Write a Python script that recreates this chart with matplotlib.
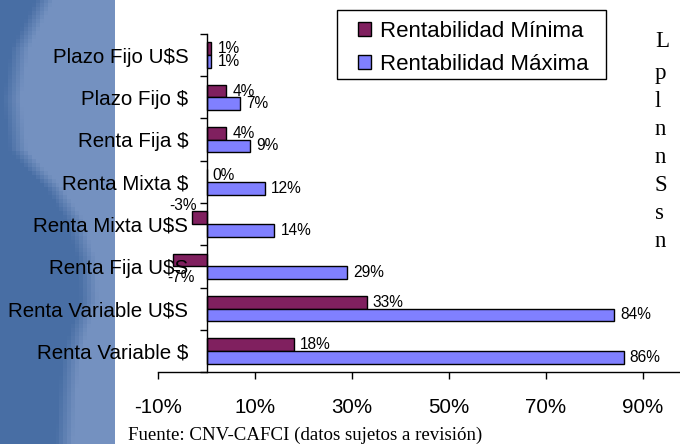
import numpy as np
import matplotlib
matplotlib.use('Agg')
import matplotlib.pyplot as plt
from matplotlib.patches import Rectangle

# data
categories = ['Plazo Fijo U$S', 'Plazo Fijo $', 'Renta Fija $', 'Renta Mixta $',
              'Renta Mixta U$S', 'Renta Fija U$S', 'Renta Variable U$S', 'Renta Variable $']
rent_min = [1, 4, 4, 0, -3, -7, 33, 18]
rent_max = [1, 7, 9, 12, 14, 29, 84, 86]
x_ticks = [-10, 10, 30, 50, 70, 90]
series_names = ['Rentabilidad Mínima', 'Rentabilidad Máxima']

# letters of the slide text cut off at the right edge
side_letters = ['L', 'p', 'l', 'n', 'n', 'S', 's', 'n']
side_baselines = [47, 79, 107, 135, 163, 191, 219, 247]

PURPLE = '#80205f'
BLUE = '#8080ff'
W, H = 680, 444

plt.rcParams['font.family'] = ['Liberation Sans', 'DejaVu Sans']

fig = plt.figure(figsize=(W / 100, H / 100), dpi=100)
fig.patch.set_facecolor('white')

# blocky blue backdrop on the left side of the slide
bg = fig.add_axes([0, 0, 115 / W, 1])
bg.set_axis_off()
rows = np.arange(0, H, 4) + 2
cols = np.arange(0, 116, 4) + 2
edge = np.interp(rows, [0, 20, 50, 100, 150, 170, 190, 220, 260, 300, 330, 360, 400, 444],
                 [45, 35, 20, 12, 18, 35, 55, 75, 88, 90, 80, 72, 68, 65])
t = np.clip((cols[None, :] - edge[:, None]) / 18 + 0.5, 0, 1)
dark = np.array([72, 110, 164]) / 255
light = np.array([116, 145, 192]) / 255
img = dark[None, None, :] * (1 - t[..., None]) + light[None, None, :] * t[..., None]
bg.imshow(img, aspect='auto', interpolation='nearest', extent=[0, 116, H, 0])

# chart
ax = fig.add_axes([158 / W, 72 / H, 533.5 / W, 338 / H])
ax.patch.set_alpha(0)
ypos = np.arange(len(categories))
bh = 0.3
b1 = ax.barh(ypos - bh / 2, rent_min, height=bh, color=PURPLE, edgecolor='black',
             linewidth=1, label=series_names[0])
b2 = ax.barh(ypos + bh / 2, rent_max, height=bh, color=BLUE, edgecolor='black',
             linewidth=1, label=series_names[1])

ax.set_xlim(-10, 100)
ax.set_ylim(len(categories) - 0.5, -0.5)

for y, v in zip(ypos - bh / 2, rent_min):
    if v >= 0:
        ax.annotate('%d%%' % v, (v, y), xytext=(4.5, 0), textcoords='offset points',
                    ha='left', va='center', fontsize=11.2)
# the two negative labels sit above / below their bars as in the original
ax.annotate('%d%%' % rent_min[4], (0, ypos[4] - bh / 2), xytext=(-7, 9),
            textcoords='offset points', ha='right', va='center', fontsize=11.2)
ax.annotate('%d%%' % rent_min[5], (0, ypos[5] - bh / 2), xytext=(-8.5, -12.5),
            textcoords='offset points', ha='right', va='center', fontsize=11.2)
for y, v in zip(ypos + bh / 2, rent_max):
    ax.annotate('%d%%' % v, (v, y), xytext=(4.5, 0), textcoords='offset points',
                ha='left', va='center', fontsize=11.2)

for s in ['top', 'right']:
    ax.spines[s].set_visible(False)
ax.spines['left'].set_position(('data', 0))
ax.spines['left'].set_linewidth(1)
ax.spines['bottom'].set_linewidth(1)

ax.set_yticks(ypos)
ax.set_yticklabels(categories, fontsize=14.8)
ax.set_yticks(np.arange(-0.5, len(categories)), minor=True)
ax.tick_params(axis='y', which='major', length=0, pad=13)
ax.tick_params(axis='y', which='minor', length=5, direction='out', width=1)

ax.set_xticks(x_ticks)
ax.set_xticklabels(['%d%%' % v for v in x_ticks], fontsize=14.8)
ax.tick_params(axis='x', length=5, direction='out', width=1, pad=14)

# legend: Excel style box drawn by hand, entries by matplotlib
fig.patches.append(Rectangle((337 / W, 1 - 79 / H), 269 / W, 69 / H, transform=fig.transFigure,
                             fill=False, edgecolor='black', linewidth=1))
fig.legend(handles=[b1, b2], loc='upper left', bbox_to_anchor=(358 / W, 1 - 21 / H),
           borderaxespad=0, borderpad=0, fontsize=16, frameon=False,
           handlelength=0.59, handleheight=0.59, handletextpad=0.4, labelspacing=0.55)

fig.text(128 / W, 1 - 440 / H, 'Fuente: CNV-CAFCI (datos sujetos a revisión)',
         family=['Liberation Serif', 'DejaVu Serif'], fontsize=13.6, va='baseline')

for ch, yb in zip(side_letters, side_baselines):
    fig.text(655 / W, 1 - yb / H, ch, family=['Liberation Serif', 'DejaVu Serif'],
             fontsize=16.5, va='baseline')

fig.savefig('out.png', dpi=100)
